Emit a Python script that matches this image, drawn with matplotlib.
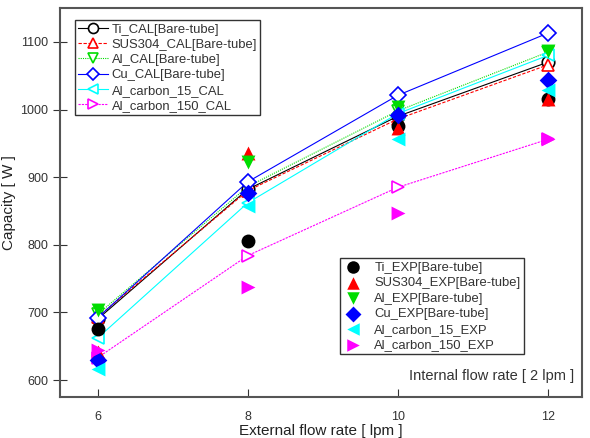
import matplotlib.pyplot as plt

plt.rcParams["font.family"] = ["Liberation Sans", "DejaVu Sans"]

flow = [6, 8, 10, 12]

# calculated capacities [W]
ti_cal = [690, 882, 990, 1070]
sus_cal = [693, 880, 986, 1066]
al_cal = [697, 886, 998, 1085]
cu_cal = [692, 893, 1021, 1113]
alc15_cal = [662, 862, 994, 1080]
alc150_cal = [633, 784, 885, 956]

# measured capacities [W]
ti_exp = [675, 806, 975, 1016]
sus_exp = [641, 935, 972, 1016]
al_exp = [703, 922, 1004, 1087]
cu_exp = [630, 877, 992, 1043]
alc15_exp = [617, 858, 956, 1029]
alc150_exp = [645, 738, 847, 957]

cal_labels = ["Ti_CAL[Bare-tube]", "SUS304_CAL[Bare-tube]", "Al_CAL[Bare-tube]",
              "Cu_CAL[Bare-tube]", "Al_carbon_15_CAL", "Al_carbon_150_CAL"]
exp_labels = ["Ti_EXP[Bare-tube]", "SUS304_EXP[Bare-tube]", "Al_EXP[Bare-tube]",
              "Cu_EXP[Bare-tube]", "Al_carbon_15_EXP", "Al_carbon_150_EXP"]

colors = ["black", "red", "#00dd00", "blue", "cyan", "magenta"]
markers = ["o", "^", "v", "D", "<", ">"]
styles = ["-", (0, (3, 1.5)), (0, (1, 1)), "-", "-", (0, (2, 1))]
msizes = [9, 9, 9, 8, 9, 9]

fig = plt.figure(figsize=(5.9, 4.38), dpi=100)
ax = fig.add_axes([0.1017, 0.0936, 0.8843, 0.888])

cal_handles = []
for vals, lab, c, m, ls, ms in zip([ti_cal, sus_cal, al_cal, cu_cal, alc15_cal, alc150_cal],
                                   cal_labels, colors, markers, styles, msizes):
    h, = ax.plot(flow, vals, color=c, linestyle=ls, linewidth=0.8, marker=m,
                 markersize=ms, markerfacecolor="white", markeredgecolor=c,
                 markeredgewidth=1.2, label=lab, zorder=2)
    cal_handles.append(h)

exp_handles = []
for vals, lab, c, m, ms in zip([ti_exp, sus_exp, al_exp, cu_exp, alc15_exp, alc150_exp],
                               exp_labels, colors, markers, msizes):
    h = ax.scatter(flow, vals, color=c, marker=m, s=(ms + 1) ** 2, label=lab,
                   linewidths=0, zorder=3)
    exp_handles.append(h)

ax.set_xlim(5.5, 12.45)
ax.set_ylim(575, 1150)
ax.set_xticks([6, 8, 10, 12])
ax.set_yticks([600, 700, 800, 900, 1000, 1100])
ax.tick_params(axis="x", direction="in", length=6, labelsize=9, pad=10, colors="#333333",
               labelcolor="#333333")
ax.tick_params(axis="y", direction="inout", length=10, labelsize=9, colors="#333333",
               labelcolor="#333333")
for sp in ax.spines.values():
    sp.set_linewidth(1.5)
    sp.set_color("#555555")

ax.set_xlabel("External flow rate [ lpm ]", fontsize=11, labelpad=1, color="#222222")
ax.set_ylabel("Capacity [ W ]", fontsize=11, labelpad=3, color="#222222")

leg1 = ax.legend(handles=cal_handles, loc="upper left", bbox_to_anchor=(0.028, 0.969),
                 fontsize=9.4, frameon=True, fancybox=False, edgecolor="black",
                 handlelength=2.3, handletextpad=0.3, labelspacing=0.24,
                 borderpad=0.25, borderaxespad=0, markerscale=0.8)
leg1.get_frame().set_linewidth(1.0)
for t in leg1.get_texts():
    t.set_color("#333333")
ax.add_artist(leg1)

leg2 = ax.legend(handles=exp_handles, loc="upper left", bbox_to_anchor=(0.536, 0.357),
                 fontsize=9.4, frameon=True, fancybox=False, edgecolor="black",
                 handlelength=1.5, handletextpad=0.9, labelspacing=0.26,
                 borderpad=0.25, borderaxespad=0, markerscale=0.9)
leg2.get_frame().set_linewidth(1.0)
for t in leg2.get_texts():
    t.set_color("#333333")

ax.text(0.985, 0.055, "Internal flow rate [ 2 lpm ]", transform=ax.transAxes,
        ha="right", va="center", fontsize=10.5, color="#333333")

fig.savefig("out.png", dpi=100)
